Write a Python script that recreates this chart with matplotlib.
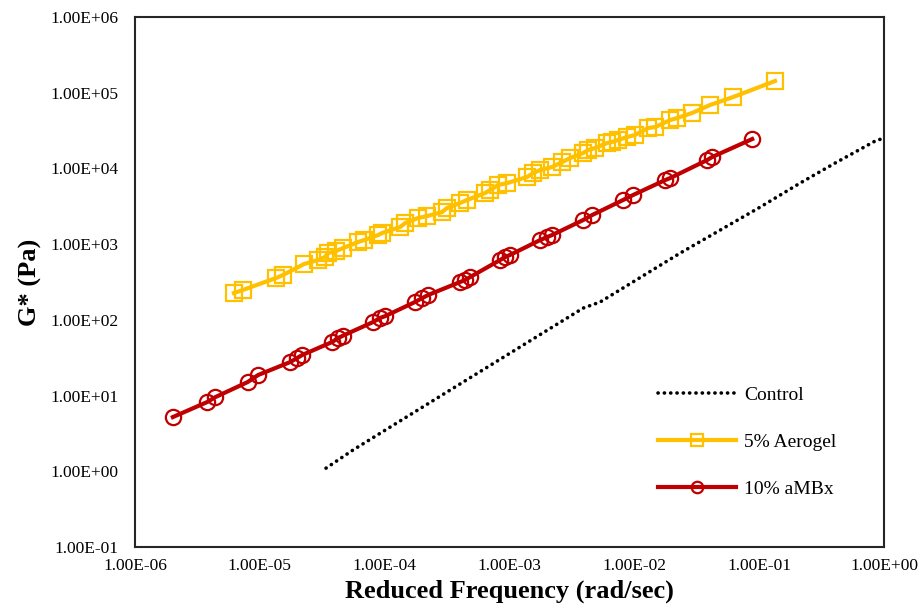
import matplotlib
matplotlib.use("Agg")
import matplotlib.pyplot as plt
from matplotlib.ticker import FixedLocator, FuncFormatter, NullLocator

# ---- data ----
control_freq = [3.39e-5, 5.58e-5, 3.34e-4, 3.89e-3, 5.32e-3, 2.33e-2, 0.102, 0.213, 0.406, 0.849, 0.95]
control_g = [1.10, 1.91, 11.8, 143, 172, 762, 3090, 6412, 11780, 23000, 24500]

aerogel_freq = [6.2e-6, 7.3e-6, 1.35e-5, 1.53e-5, 2.26e-5, 2.92e-5, 3.33e-5, 3.52e-5, 4.08e-5,
                4.65e-5, 6.12e-5, 6.84e-5, 8.85e-5, 9.53e-5, 1.33e-4, 1.46e-4, 1.85e-4, 2.19e-4,
                2.88e-4, 3.16e-4, 4.02e-4, 4.57e-4, 6.37e-4, 7.0e-4, 8.11e-4, 9.57e-4, 1.38e-3,
                1.55e-3, 1.76e-3, 2.19e-3, 2.64e-3, 3.06e-3, 3.89e-3, 4.27e-3, 4.85e-3, 6.05e-3,
                6.64e-3, 7.41e-3, 8.75e-3, 1.01e-2, 1.29e-2, 1.47e-2, 1.94e-2, 2.2e-2, 2.9e-2,
                4.04e-2, 6.19e-2, 0.134]
aerogel_g = [226, 248, 357, 391, 546, 617, 676, 762, 811,
             888, 1066, 1132, 1318, 1402, 1682, 1900, 2213, 2350,
             2655, 3000, 3491, 3828, 4732, 5188, 6039, 6412, 7690,
             8690, 9530, 10440, 12150, 13710, 15970, 17500, 18600, 21660,
             22330, 23730, 26000, 27600, 34200, 35240, 43550, 46300, 53950,
             68800, 87700, 142800]

ambx_freq = [2.01e-6, 3.78e-6, 4.38e-6, 8.0e-6, 9.7e-6, 1.75e-5, 1.99e-5, 2.18e-5, 3.79e-5,
             4.24e-5, 4.65e-5, 8.07e-5, 9.18e-5, 1.01e-4, 1.75e-4, 2.0e-4, 2.23e-4, 4.02e-4,
             4.41e-4, 4.83e-4, 8.41e-4, 9.23e-4, 1.01e-3, 1.76e-3, 2.0e-3, 2.19e-3, 3.89e-3,
             4.59e-3, 8.13e-3, 9.77e-3, 1.77e-2, 1.94e-2, 3.83e-2, 4.2e-2, 8.79e-2]
ambx_g = [5.2, 8.2, 9.5, 15.1, 18.7, 27.7, 31.3, 34.3, 50.9,
          57.5, 62, 93.5, 106, 112, 172, 194, 213, 316,
          336, 367, 617, 676, 720, 1132, 1241, 1318, 2081,
          2422, 3828, 4454, 7031, 7465, 12900, 14150, 24450]

series_labels = ["Control", "5% Aerogel", "10% aMBx"]
x_ticks = [1e-6, 1e-5, 1e-4, 1e-3, 1e-2, 1e-1, 1e0]
y_ticks = [1e-1, 1e0, 1e1, 1e2, 1e3, 1e4, 1e5, 1e6]

# ---- plotting ----
plt.rcParams['font.family'] = ['Liberation Serif', 'DejaVu Serif']

fig = plt.figure(figsize=(9.24, 6.10), dpi=100)
ax = fig.add_axes([0.1461, 0.1033, 0.8106, 0.8688])

ax.plot(control_freq, control_g, color='black', linewidth=2.6,
        linestyle=(0, (0.05, 1.7)), dash_capstyle='round', label=series_labels[0])
ax.plot(aerogel_freq, aerogel_g, color='#FFC000', linewidth=3.0, marker='s',
        markersize=11, markerfacecolor='none', markeredgewidth=1.6,
        markeredgecolor='#FFC000', label=series_labels[1])
ax.plot(ambx_freq, ambx_g, color='#C00000', linewidth=3.0, marker='o',
        markersize=11, markerfacecolor='none', markeredgewidth=1.6,
        markeredgecolor='#C00000', label=series_labels[2])

ax.set_xscale('log')
ax.set_yscale('log')
ax.set_xlim(1e-6, 1e0)
ax.set_ylim(1e-1, 1e6)

def sci_fmt(v, pos):
    return "%.2E" % v

ax.xaxis.set_major_locator(FixedLocator(x_ticks))
ax.yaxis.set_major_locator(FixedLocator(y_ticks))
ax.xaxis.set_minor_locator(NullLocator())
ax.yaxis.set_minor_locator(NullLocator())
ax.xaxis.set_major_formatter(FuncFormatter(sci_fmt))
ax.yaxis.set_major_formatter(FuncFormatter(sci_fmt))
ax.tick_params(axis='both', which='both', length=0, labelsize=12.5)
ax.tick_params(axis='y', pad=12)
ax.tick_params(axis='x', pad=8)

for sp in ax.spines.values():
    sp.set_linewidth(1.5)
    sp.set_color('#262626')

ax.set_xlabel("Reduced Frequency (rad/sec)", fontsize=19, fontweight='bold', labelpad=4)
ax.set_ylabel("G* (Pa)", fontsize=19, fontweight='bold', labelpad=6)

leg = ax.legend(loc='lower right', bbox_to_anchor=(0.96, 0.06), frameon=False,
                fontsize=14, handlelength=4.0, handletextpad=0.45, labelspacing=1.5,
                markerscale=0.75)

fig.savefig("out.png", dpi=100)
